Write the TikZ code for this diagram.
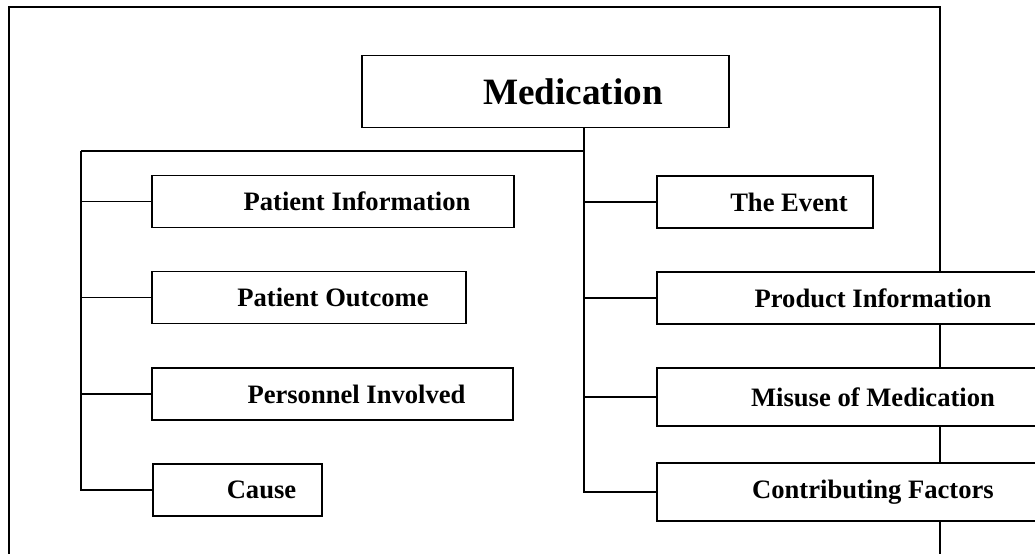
\documentclass[tikz,border=0pt]{standalone}
\usepackage{fontspec}
\setmainfont{Liberation Serif}
\usepackage{tikz}
\tikzstyle{frame}=[draw,line width=.8pt]
\tikzstyle{root}=[draw,fill=white,line width=.6pt,inner sep=0pt,font=\bfseries\fontsize{18.6}{22}\selectfont,execute at begin node={\hspace*{27.5pt}}]
\tikzstyle{topic}=[draw,fill=white,line width=.6pt,inner sep=0pt,minimum height=26pt,font=\bfseries\fontsize{13.3}{16}\selectfont,execute at begin node={\hspace*{24pt}}]
\tikzstyle{edge}=[draw,line width=.6pt,-]

\begin{document}
\begin{tikzpicture}[x=.5pt,y=-.5pt]
        \useasboundingbox (0,0) rectangle (1035,553);
        \clip (0,0) rectangle (1035,553);
        \draw[frame] (9,580) -- (9,7) -- (940,7) -- (940,580);
        \node[root,minimum width=183.5pt,minimum height=36pt] (med) at (545.5,91.5) {Medication};
        \node[topic,minimum width=181pt] (pinfo) at (333,201.5) {Patient Information};
        \node[topic,minimum width=157pt] (pout) at (309,297.5) {Patient Outcome};
        \node[topic,minimum width=180.5pt] (pers) at (332.5,394) {Personnel Involved};
        \node[topic,minimum width=84.5pt] (cause) at (237.5,490) {Cause};
        \node[topic,minimum width=108pt] (event) at (765,202) {The Event};
        \node[topic,minimum width=192pt] (prod) at (849,298) {Product Information};
        \node[topic,minimum width=192pt,minimum height=29pt] (misuse) at (849,397) {Misuse of Medication};
        \node[topic,minimum width=192pt,minimum height=29pt] (contrib) at (849,492) {Contributing Factors};
        \coordinate (ltop) at (81,151);
        \coordinate (rtop) at (584,151);
        \draw[edge] (ltop) -- (rtop);
        \draw[edge] (med.south -| rtop) -- (rtop |- contrib.west) -- (contrib.west);
        \draw[edge] (ltop) -- (ltop |- cause.west) -- (cause.west);
        \foreach \n in {pinfo,pout,pers}
          \draw[edge] (ltop |- \n.west) -- (\n.west);
        \foreach \n in {event,prod,misuse}
          \draw[edge] (rtop |- \n.west) -- (\n.west);
      \end{tikzpicture}
\end{document}
